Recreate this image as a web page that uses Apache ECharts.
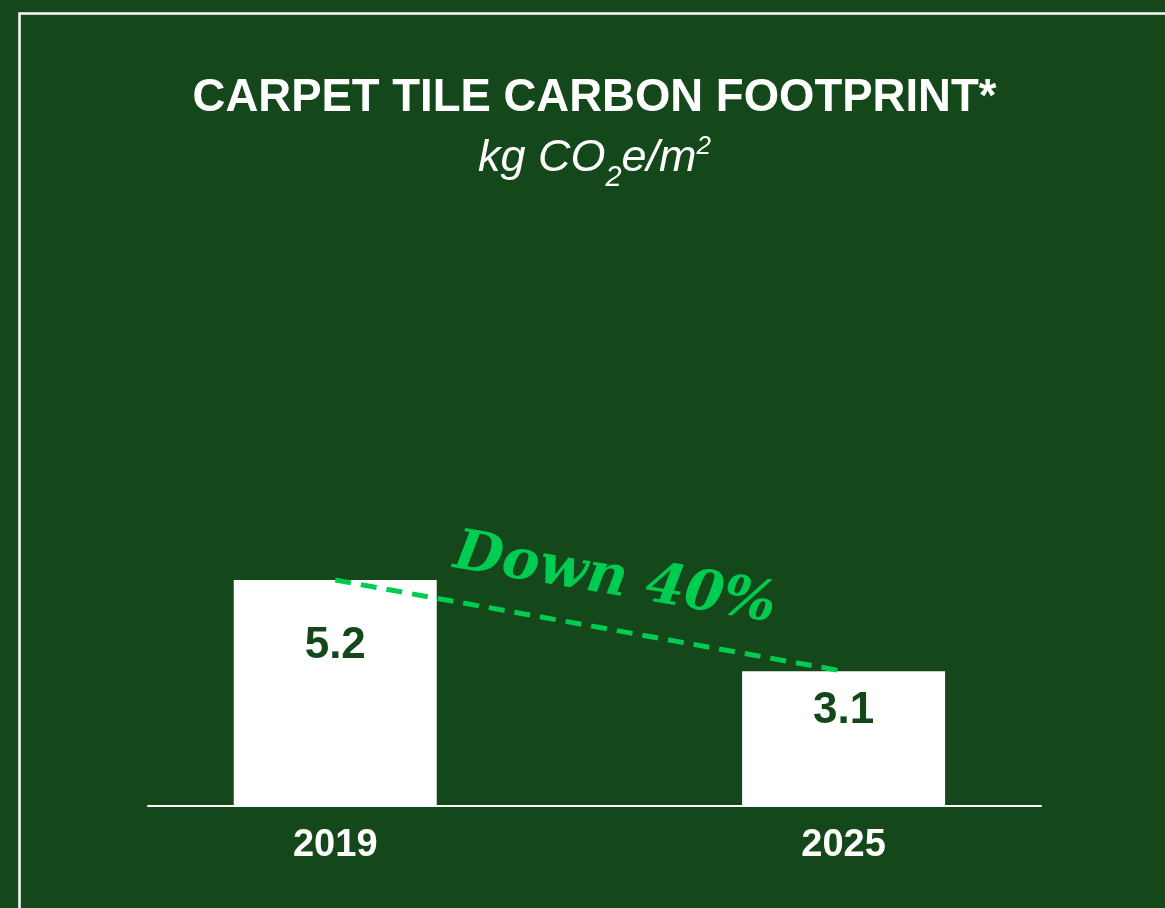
<!DOCTYPE html>
<html>
<head>
<meta charset="utf-8">
<title>Carpet tile carbon footprint</title>
<script src="https://cdn.jsdelivr.net/npm/echarts@6/dist/echarts.min.js"></script>
<style>
  html, body { margin: 0; padding: 0; background: #14481a; }
  #chart { width: 1165px; height: 908px; }
</style>
</head>
<body>
<div id="chart"></div>
<script>
// Footprint per year, kg CO2e per square metre
const years = [2019, 2025];
const footprint = [5.2, 3.1];
const trendLabel = 'Down 40%';

const GREEN_DARK = '#14481a';
const GREEN_BRIGHT = '#00cc52';
const SANS = '"Liberation Sans", Arial, Helvetica, sans-serif';

const points = years.map((y, i) => [y, footprint[i]]);

const chart = echarts.init(document.getElementById('chart'), null, { renderer: 'canvas' });

chart.setOption({
  backgroundColor: GREEN_DARK,
  animation: false,
  title: {
    text: 'CARPET TILE CARBON FOOTPRINT*',
    subtext: '{t|kg CO}{sub|2}{t|e/m}{sup|2}',
    left: 594.5,
    top: 76,
    padding: 0,
    textAlign: 'center',
    itemGap: 2,
    textStyle: {
      color: '#ffffff',
      fontFamily: SANS,
      fontWeight: 'bold',
      fontSize: 45.5,
      lineHeight: 45
    },
    subtextStyle: {
      color: '#ffffff',
      rich: {
        t: { fontFamily: SANS, fontStyle: 'italic', fontSize: 45, lineHeight: 68, color: '#ffffff' },
        sub: { fontFamily: SANS, fontStyle: 'italic', fontSize: 29, lineHeight: 28, verticalAlign: 'bottom', color: '#ffffff' },
        sup: { fontFamily: SANS, fontStyle: 'italic', fontSize: 26, lineHeight: 25, verticalAlign: 'top', padding: [10, 0, 0, 0], color: '#ffffff' }
      }
    }
  },
  graphic: [{
    type: 'rect',
    silent: true,
    shape: { x: 19.5, y: 13.5, width: 1300, height: 1000 },
    style: { fill: 'transparent', stroke: '#ffffff', lineWidth: 2.5 }
  }],
  grid: { left: 148, right: 124, top: 371.5, bottom: 102 },
  xAxis: {
    type: 'value',
    min: 2016.79,
    max: 2027.33,
    splitLine: { show: false },
    axisTick: { show: false },
    axisLine: { show: true, lineStyle: { color: '#ffffff', width: 2 } },
    axisLabel: {
      customValues: years,
      formatter: (v) => String(v),
      color: '#ffffff',
      fontFamily: SANS,
      fontWeight: 'bold',
      fontSize: 38,
      margin: 21
    }
  },
  yAxis: {
    type: 'value',
    min: 0,
    max: 10,
    show: false
  },
  series: [
    {
      type: 'bar',
      data: points,
      barWidth: 203,
      itemStyle: { color: '#ffffff' },
      label: {
        show: true,
        position: ['50%', '29%'],
        align: 'center',
        verticalAlign: 'middle',
        formatter: (p) => p.value[1].toFixed(1),
        color: GREEN_DARK,
        fontFamily: SANS,
        fontWeight: 'bold',
        fontSize: 44
      },
      z: 2
    },
    {
      type: 'line',
      data: points,
      symbol: 'none',
      lineStyle: { color: GREEN_BRIGHT, width: 5, type: [16, 10] },
      z: 3,
      markPoint: {
        symbol: 'circle',
        symbolSize: 0,
        itemStyle: { color: 'transparent' },
        data: [{
          coord: [2022.3, 5.2],
          label: {
            show: true,
            position: 'inside',
            formatter: trendLabel,
            rotate: -9.7,
            color: GREEN_BRIGHT,
            fontFamily: '"DejaVu Serif", Georgia, serif',
            fontWeight: 'bold',
            fontStyle: 'italic',
            fontSize: 56
          }
        }]
      }
    }
  ]
});
</script>
</body>
</html>
